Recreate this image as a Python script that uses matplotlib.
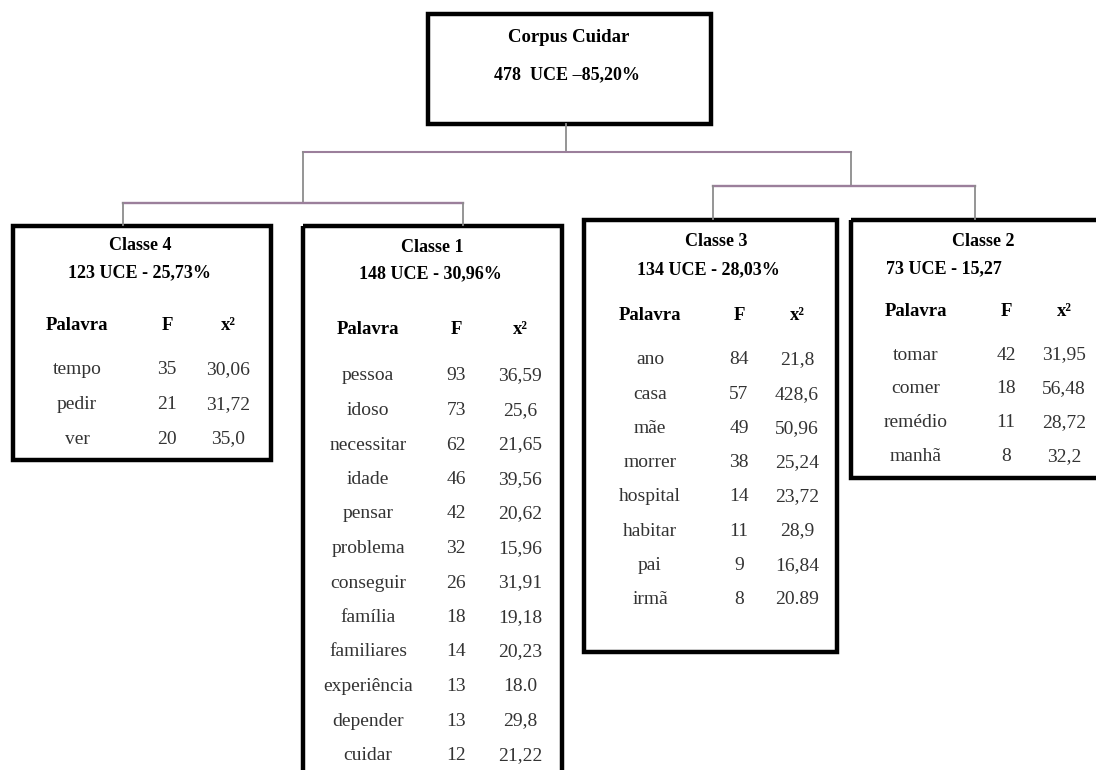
import matplotlib
matplotlib.use('Agg')
import matplotlib.pyplot as plt
from matplotlib.patches import Rectangle

# data
root_title = 'Corpus Cuidar'
root_sub = '478  UCE \u201385,20%'

class_titles = ['Classe 4', 'Classe 1', 'Classe 3', 'Classe 2']
class_subs = ['123 UCE - 25,73%', '148 UCE - 30,96%', '134 UCE - 28,03%', '73 UCE - 15,27']

c4_words = ['tempo', 'pedir', 'ver']
c4_f = ['35', '21', '20']
c4_x2 = ['30,06', '31,72', '35,0']

c1_words = ['pessoa', 'idoso', 'necessitar', 'idade', 'pensar', 'problema',
            'conseguir', 'família', 'familiares', 'experiência', 'depender', 'cuidar']
c1_f = ['93', '73', '62', '46', '42', '32', '26', '18', '14', '13', '13', '12']
c1_x2 = ['36,59', '25,6', '21,65', '39,56', '20,62', '15,96', '31,91', '19,18',
         '20,23', '18.0', '29,8', '21,22']

c3_words = ['ano', 'casa', 'mãe', 'morrer', 'hospital', 'habitar', 'pai', 'irmã']
c3_f = ['84', '57', '49', '38', '14', '11', '9', '8']
c3_x2 = ['21,8', '428,6', '50,96', '25,24', '23,72', '28,9', '16,84', '20.89']

c2_words = ['tomar', 'comer', 'remédio', 'manhã']
c2_f = ['42', '18', '11', '8']
c2_x2 = ['31,95', '56,48', '28,72', '32,2']

headers = ['Palavra', 'F', 'x\u00b2']

# layout (pixel coords, y downward)
W, H = 1096, 770
fig = plt.figure(figsize=(W / 100, H / 100), dpi=100)
ax = fig.add_axes([0, 0, 1, 1])
ax.set_xlim(0, W)
ax.set_ylim(H, 0)
ax.axis('off')

plt.rcParams['font.family'] = ['Liberation Serif', 'DejaVu Serif']
FS_TITLE = 13
FS_HEAD = 13.5
FS_BODY = 14
box_lw = 3.2
line_c = '#8c8c8c'
hline_c = '#9b7f9b'
body_c = '#333333'

def box(x0, y0, x1, y1):
    ax.add_patch(Rectangle((x0, y0), x1 - x0, y1 - y0, fill=False,
                           ec='black', lw=box_lw, clip_on=True))

# connectors
ax.plot([566, 566], [124, 152], color=line_c, lw=1.3)
ax.plot([303, 851], [152, 152], color=hline_c, lw=1.5)
ax.plot([303, 303], [152, 203], color=line_c, lw=1.3)
ax.plot([123, 463], [203, 203], color=hline_c, lw=1.7)
ax.plot([123, 123], [203, 225], color=line_c, lw=1.3)
ax.plot([463, 463], [203, 225], color=line_c, lw=1.3)
ax.plot([851, 851], [152, 186], color=line_c, lw=1.3)
ax.plot([713, 975], [186, 186], color=hline_c, lw=1.7)
ax.plot([713, 713], [186, 219], color=line_c, lw=1.3)
ax.plot([975, 975], [186, 219], color=line_c, lw=1.3)

# root box
box(428, 14, 711, 124)
ax.text(569, 37, root_title, ha='center', va='center', fontsize=13.5, fontweight='bold')
ax.text(567, 75, root_sub, ha='center', va='center', fontsize=13, fontweight='bold')

# class boxes
panels = [
    dict(rect=(13, 226, 271, 460), title=(140, 246), sub=(140, 273), head_y=325,
         cols=(77, 167, 228), row0=370, step=34.5, words=c4_words, f=c4_f, x2=c4_x2),
    dict(rect=(303, 226, 562, 790), title=(432, 247), sub=(430, 274), head_y=330,
         cols=(368, 456, 520), row0=376, step=34.5, words=c1_words, f=c1_f, x2=c1_x2),
    dict(rect=(584, 220, 837, 652), title=(716, 242), sub=(708, 270), head_y=316,
         cols=(650, 739, 797), row0=360, step=34.2, words=c3_words, f=c3_f, x2=c3_x2),
    dict(rect=(851, 220, 1110, 478), title=(983, 242), sub=(944, 269), head_y=311,
         cols=(916, 1006, 1064), row0=355, step=33.8, words=c2_words, f=c2_f, x2=c2_x2),
]

for i, p in enumerate(panels):
    box(*p['rect'])
    ax.text(*p['title'], class_titles[i], ha='center', va='center', fontsize=FS_TITLE, fontweight='bold')
    ax.text(*p['sub'], class_subs[i], ha='center', va='center', fontsize=FS_TITLE, fontweight='bold')
    for cx, h in zip(p['cols'], headers):
        ax.text(cx, p['head_y'], h, ha='center', va='center', fontsize=FS_HEAD, fontweight='bold')
    for r, (w, f, x2) in enumerate(zip(p['words'], p['f'], p['x2'])):
        y = p['row0'] + r * p['step']
        ax.text(p['cols'][0], y, w, ha='center', va='center', fontsize=FS_BODY, color=body_c)
        ax.text(p['cols'][1], y, f, ha='center', va='center', fontsize=FS_BODY, color=body_c)
        ax.text(p['cols'][2], y, x2, ha='center', va='center', fontsize=FS_BODY, color=body_c)

fig.savefig('out.png', dpi=100, facecolor='white')
